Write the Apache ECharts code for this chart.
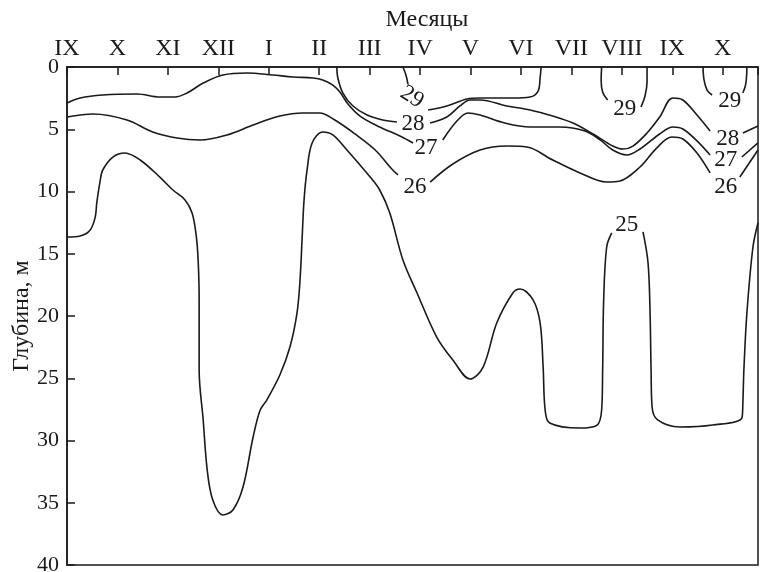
<!DOCTYPE html>
<html>
<head>
<meta charset="utf-8">
<script src="https://cdn.jsdelivr.net/npm/echarts@6/dist/echarts.min.js"></script>
<style>html,body{margin:0;padding:0;background:#fff}#c{width:763px;height:572px}</style>
</head>
<body>
<div id="c"></div>
<script>
// Month axis (index 0 = IX of the first year)
const months = ['IX','X','XI','XII','I','II','III','IV','V','VI','VII','VIII','IX','X'];
const depthTicks = [0,5,10,15,20,25,30,35,40];

// Isotherm segments: [month index, depth m]
const iso25a = [[0,13.65],[0.26,13.57],[0.46,13.09],[0.56,12.05],[0.59,10.92],[0.65,9.32],[0.71,8.27],[0.91,7.23],[1.15,6.91],[1.45,7.47],[1.84,8.84],[2.10,9.88],[2.34,10.68],[2.48,11.73],[2.56,13.49],[2.60,15.5],[2.62,18.71],[2.62,24.34],[2.70,28.35],[2.78,32.37],[2.89,34.78],[3.09,35.98],[3.29,35.58],[3.49,33.74],[3.69,29.72],[3.83,27.55],[3.96,26.75],[4.22,24.74],[4.42,22.49],[4.56,19.76],[4.62,17.11],[4.66,13.9],[4.70,10.68],[4.76,8.27],[4.86,6.10],[5.07,5.22],[5.27,5.46],[5.55,6.67],[6.01,8.84],[6.20,9.88],[6.40,11.73],[6.66,15.5],[6.94,18.15],[7.33,21.69],[7.65,23.53],[7.99,25.06],[8.25,24.10],[8.52,20.56],[8.84,18.15],[8.98,17.83],[9.24,18.71],[9.38,20.56],[9.44,24.10],[9.48,27.55],[9.57,28.59],[10.17,29.0],[10.51,28.76],[10.60,27.55],[10.62,24.34],[10.64,18.71],[10.70,14.46],[10.80,13.33]];
const iso25b = [[11.42,13.25],[11.52,15.74],[11.56,19.76],[11.58,24.34],[11.60,27.31],[11.71,28.35],[12.15,28.92],[12.80,28.76],[13.38,28.19],[13.40,26.99],[13.42,24.34],[13.48,19.76],[13.60,14.46],[13.70,12.53]];
const iso26a = [[0,4.02],[0.52,3.78],[1.19,4.26],[1.70,5.22],[2.18,5.70],[2.64,5.86],[3.17,5.46],[3.69,4.66],[4.22,3.94],[4.68,3.69],[5.01,3.69],[5.31,4.26],[5.71,5.38],[6.11,6.67],[6.44,8.19],[6.56,8.67]];
const iso26b = [[7.20,9.24],[7.65,7.79],[8.19,6.67],[8.72,6.35],[9.12,6.43],[9.63,7.47],[10.17,8.51],[10.70,9.24],[10.96,9.16],[11.36,8.03],[11.69,6.51],[11.99,5.62],[12.21,5.78],[12.49,6.91],[12.75,8.51]];
const iso26c = [[13.34,8.84],[13.70,6.67]];
const iso27a = [[0,2.89],[0.26,2.49],[0.71,2.25],[1.39,2.17],[1.84,2.41],[2.14,2.41],[2.38,2.09],[2.70,1.29],[3.09,0.64],[3.57,0.48],[4.08,0.64],[4.48,0.80],[4.88,0.88],[5.07,1.04],[5.27,1.45],[5.41,2.01],[5.57,2.97],[5.81,3.94],[6.20,4.82],[6.60,5.54],[6.86,6.10]];
const iso27b = [[7.45,5.86],[7.73,4.34],[7.95,3.69],[8.19,3.86],[8.68,4.50],[9.18,4.82],[9.77,4.82],[10.27,5.14],[10.57,5.86],[10.82,6.67],[11.10,7.07],[11.36,6.59],[11.75,5.38],[12.01,4.82],[12.21,4.98],[12.49,5.94],[12.75,7.07]];
const iso27c = [[13.38,7.23],[13.70,6.10]];
const iso28a = [[5.35,0],[5.37,0.88],[5.47,2.09],[5.67,3.13],[5.95,3.86],[6.26,4.26],[6.54,4.42]];
const iso28b = [[7.20,4.50],[7.53,4.02],[7.79,3.13],[7.99,2.65],[8.19,2.65],[8.72,3.13],[9.18,3.45],[9.63,3.94],[10.03,4.50],[10.43,5.38],[10.82,6.35],[11.02,6.59],[11.22,6.35],[11.50,5.30],[11.75,4.02],[12.01,2.49],[12.21,2.65],[12.49,3.86],[12.75,5.14]];
const iso28c = [[13.40,5.30],[13.70,4.74]];
const iso29a = [[6.66,0],[6.72,0.64],[6.76,1.37]];
const iso29b = [[7.16,3.45],[7.53,3.13],[7.93,2.57],[8.19,2.49],[8.84,2.49],[9.18,2.41],[9.34,1.93],[9.38,0.88],[9.40,0]];
const iso29c = [[10.60,0],[10.59,1.04],[10.62,2.01],[10.72,2.65]];
const iso29d = [[11.38,3.21],[11.46,2.33],[11.50,1.20],[11.50,0]];
const iso29e = [[12.61,0],[12.63,1.04],[12.69,1.85],[12.79,2.25]];
const iso29f = [[13.40,2.09],[13.46,1.29],[13.48,0]];

// Isotherm labels
const labelText  = ['29','28','27','26','29','29','28','27','26','25'];
const labelMonth = [6.84,6.86,7.12,6.90,11.06,13.14,13.10,13.06,13.06,11.10];
const labelDepth = [2.41,4.58,6.51,9.64,3.37,2.73,5.78,7.47,9.64,12.69];

const FONT = "'Liberation Serif','Times New Roman',serif";
const INK = '#1a1a1a';
const segments = [iso25a,iso25b,iso26a,iso26b,iso26c,iso27a,iso27b,iso27c,iso28a,iso28b,iso28c,iso29a,iso29b,iso29c,iso29d,iso29e,iso29f];

const series = segments.map(seg => ({
  type: 'line', data: seg, showSymbol: false, symbol: 'none', smooth: 0.35,
  lineStyle: {color: INK, width: 1.6}, silent: true, z: 2
}));
series.push({
  type: 'scatter', symbolSize: 0, silent: true, z: 3,
  itemStyle: {color: INK, opacity: 1},
  data: labelText.map((t, i) => ({
    value: [labelMonth[i], labelDepth[i]],
    label: {show: true, position: 'inside', formatter: t, rotate: i === 0 ? -32 : 0, opacity: 1,
      fontFamily: FONT, fontSize: 23, color: INK, textBorderWidth: 0, textBorderColor: 'transparent'}
  }))
});

const chart = echarts.init(document.getElementById('c'), null, {renderer: 'canvas'});
chart.setOption({
  animation: false,
  backgroundColor: '#fff',
  title: {text: 'Месяцы', left: 422, top: 3, textAlign: 'center',
    textStyle: {fontFamily: FONT, fontSize: 24, fontWeight: 'normal', color: INK}},
  grid: {left: 67, top: 67, right: 5, bottom: 7, containLabel: false, outerBoundsMode: 'none',
    show: true, borderColor: INK, borderWidth: 1.5, backgroundColor: 'transparent'},
  xAxis: {
    type: 'value', position: 'top', min: 0, max: 13.7, interval: 1,
    axisLine: {show: true, lineStyle: {color: INK, width: 1.5}},
    axisTick: {show: true, inside: true, length: 8, lineStyle: {color: INK, width: 1.5}},
    splitLine: {show: false},
    axisLabel: {show: true, showMinLabel: true, showMaxLabel: true, margin: 6, fontFamily: FONT, fontSize: 24, color: INK,
      formatter: v => Math.abs(v - Math.round(v)) < 1e-6 && months[Math.round(v)] ? months[Math.round(v)] : ''}
  },
  yAxis: {
    type: 'value', inverse: true, min: depthTicks[0], max: depthTicks[depthTicks.length-1], interval: depthTicks[1]-depthTicks[0],
    name: 'Глубина, м', nameLocation: 'middle', nameGap: 33, nameRotate: 90, nameMoveOverlap: false,
    nameTextStyle: {fontFamily: FONT, fontSize: 24, color: INK},
    axisLine: {show: true, lineStyle: {color: INK, width: 1.5}},
    axisTick: {show: true, inside: true, length: 8, lineStyle: {color: INK, width: 1.5}},
    splitLine: {show: false},
    axisLabel: {margin: 8, fontFamily: FONT, fontSize: 22, color: INK}
  },
  series: series
});
</script>
</body>
</html>
